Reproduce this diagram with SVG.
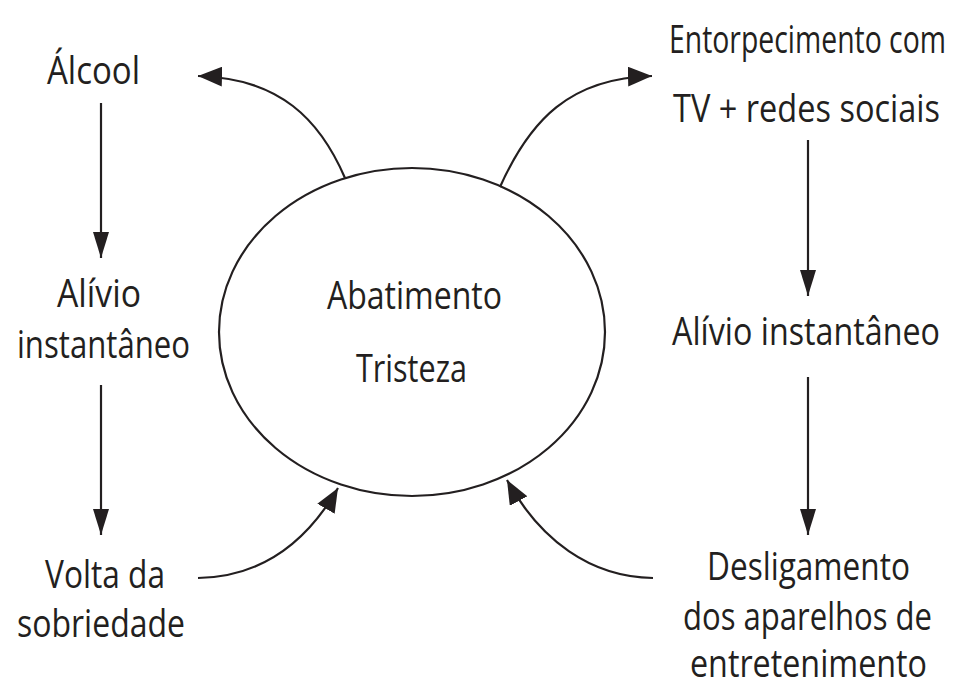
<svg xmlns="http://www.w3.org/2000/svg" width="953" height="685" viewBox="0 0 953 685">
<defs>
<style>
text{font-family:"Open Sans","Liberation Sans",sans-serif;font-size:38px;fill:#231f20;}
.ln{fill:none;stroke:#231f20;stroke-width:2.2;}
.c{marker-end:url(#ah);}
.v{marker-end:url(#av);}
</style>
<marker id="ah" markerUnits="userSpaceOnUse" viewBox="0 0 24 20" refX="24" refY="10" markerWidth="24" markerHeight="20" orient="auto">
<path d="M0,0 L24,10 L0,20 Z" fill="#231f20"/>
</marker>
<marker id="av" markerUnits="userSpaceOnUse" viewBox="0 0 26 16" refX="26" refY="8" markerWidth="26" markerHeight="16" orient="auto">
<path d="M0,0 L26,8 L0,16 Z" fill="#231f20"/>
</marker>
</defs>
<rect width="953" height="685" fill="#ffffff"/>
<g id="center">
<ellipse cx="412" cy="332" rx="193" ry="164" class="ln"/>
<text x="327" y="309" textLength="175" lengthAdjust="spacingAndGlyphs">Abatimento</text>
<text x="356" y="382" textLength="111" lengthAdjust="spacingAndGlyphs">Tristeza</text>
</g>
<g id="alcool"><text x="47" y="84" textLength="93" lengthAdjust="spacingAndGlyphs">Álcool</text></g>
<g id="alivio-left">
<text x="57" y="307" textLength="84" lengthAdjust="spacingAndGlyphs">Alívio</text>
<text x="17" y="358" textLength="173" lengthAdjust="spacingAndGlyphs">instantâneo</text>
</g>
<g id="volta">
<text x="45" y="588" textLength="120" lengthAdjust="spacingAndGlyphs">Volta da</text>
<text x="17" y="637" textLength="168" lengthAdjust="spacingAndGlyphs">sobriedade</text>
</g>
<g id="entorpecimento">
<text x="669" y="53" textLength="277" lengthAdjust="spacingAndGlyphs">Entorpecimento com</text>
<text x="673" y="122" textLength="267" lengthAdjust="spacingAndGlyphs">TV + redes sociais</text>
</g>
<g id="alivio-right"><text x="672" y="345" textLength="268" lengthAdjust="spacingAndGlyphs">Alívio instantâneo</text></g>
<g id="desligamento">
<text x="707" y="580" textLength="203" lengthAdjust="spacingAndGlyphs">Desligamento</text>
<text x="683" y="630" textLength="249" lengthAdjust="spacingAndGlyphs">dos aparelhos de</text>
<text x="690" y="677" textLength="237" lengthAdjust="spacingAndGlyphs">entretenimento</text>
</g>
<g id="connectors">
<path class="ln v" d="M101,103 L101,258"/>
<path class="ln v" d="M101,385 L101,535"/>
<path class="ln v" d="M808,140 L808,296"/>
<path class="ln v" d="M808,377 L808,535"/>
<path class="ln c" d="M345,178 C320,120 280,78 198,76"/>
<path class="ln c" d="M500,187 C530,120 570,78 652,76"/>
<path class="ln c" d="M198,578 C260,577 305,545 338,488"/>
<path class="ln c" d="M653,578 C590,577 540,540 507,480"/>
</g>
</svg>
